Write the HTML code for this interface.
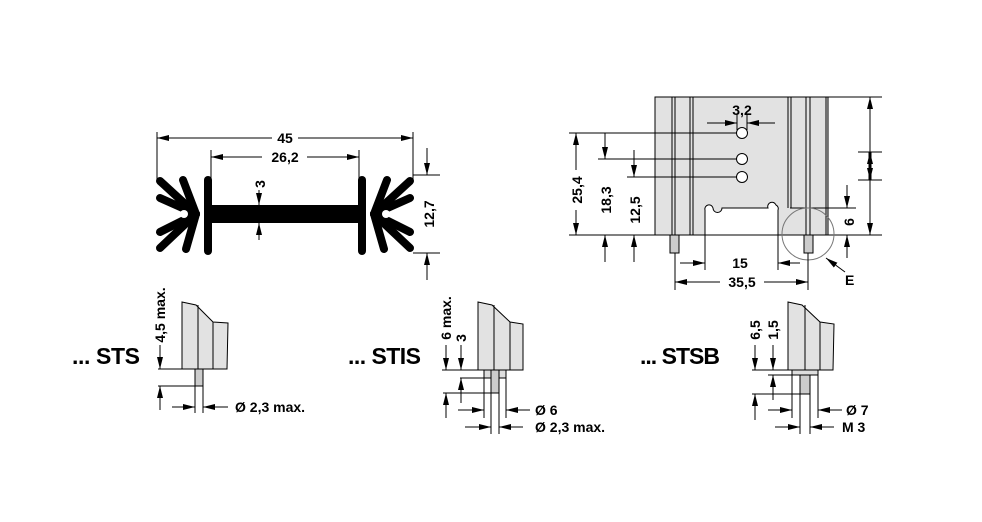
<!DOCTYPE html>
<html><head><meta charset="utf-8"><style>
html,body{margin:0;padding:0;background:#fff}
svg{display:block}
text{font-family:"Liberation Sans",sans-serif;font-weight:bold;fill:#000}
.d{font-size:14px}
.t{font-size:23px}
</style></head><body>
<svg width="982" height="522" viewBox="0 0 982 522" xmlns="http://www.w3.org/2000/svg">
<defs>
<marker id="a" viewBox="0 0 12 6" refX="12" refY="3" markerWidth="12" markerHeight="6" markerUnits="userSpaceOnUse" orient="auto-start-reverse"><path d="M0,0 L12,3 L0,6 z" fill="#000"/></marker>
</defs>
<g stroke="#000" stroke-width="1" fill="none">
<line x1="157" y1="132" x2="157" y2="180"/>
<line x1="413" y1="132" x2="413" y2="180"/>
<line x1="211" y1="150" x2="211" y2="178"/>
<line x1="359" y1="150" x2="359" y2="178"/>
<line x1="157" y1="138" x2="272" y2="138" marker-start="url(#a)"/>
<line x1="298" y1="138" x2="413" y2="138" marker-end="url(#a)"/>
<line x1="211" y1="157" x2="262" y2="157" marker-start="url(#a)"/>
<line x1="307" y1="157" x2="359" y2="157" marker-end="url(#a)"/>
<line x1="413" y1="175" x2="440" y2="175"/>
<line x1="413" y1="253" x2="440" y2="253"/>
<line x1="427" y1="148" x2="427" y2="175" marker-end="url(#a)"/>
<line x1="427" y1="280" x2="427" y2="253" marker-end="url(#a)"/>
<line x1="259" y1="190" x2="259" y2="205" marker-end="url(#a)"/>
<line x1="259" y1="240" x2="259" y2="223" marker-end="url(#a)"/>
</g>
<g stroke="#000" stroke-width="8" stroke-linecap="round">
<line x1="196" y1="214" x2="160" y2="181"/>
<line x1="196" y1="214" x2="160" y2="198"/>
<line x1="196" y1="214" x2="160" y2="232"/>
<line x1="196" y1="214" x2="160" y2="248"/>
<line x1="196" y1="214" x2="183" y2="180"/>
<line x1="196" y1="214" x2="186" y2="249"/>
<line x1="374" y1="214" x2="410" y2="181"/>
<line x1="374" y1="214" x2="410" y2="198"/>
<line x1="374" y1="214" x2="410" y2="232"/>
<line x1="374" y1="214" x2="410" y2="248"/>
<line x1="374" y1="214" x2="387" y2="180"/>
<line x1="374" y1="214" x2="384" y2="249"/>
<line x1="208" y1="180" x2="208" y2="251"/>
<line x1="362" y1="180" x2="362" y2="251"/>
</g>
<rect x="205" y="205" width="160" height="18" fill="#000"/>
<circle cx="184" cy="214" r="4" fill="#fff"/>
<circle cx="386" cy="214" r="4" fill="#fff"/>
<text class="d" x="285" y="143" text-anchor="middle">45</text>
<text class="d" x="285" y="162" text-anchor="middle">26,2</text>
<text class="d" transform="translate(265,184) rotate(-90)" text-anchor="middle">3</text>
<text class="d" transform="translate(434,214) rotate(-90)" text-anchor="middle">12,7</text>

<rect x="655" y="97" width="173" height="138" fill="#e2e2e2" stroke="#000"/>
<path d="M705,235 V210 A4,4 0 0 1 713,208 A4,4 0 0 0 722,208 H768 A4,4 0 0 1 776,205 A4,4 0 0 1 778,210 V235 Z" fill="#fff" stroke="#000"/>
<g stroke="#000" stroke-width="1" fill="none">
<line x1="828" y1="97" x2="882" y2="97"/>
<line x1="672" y1="97" x2="672" y2="235"/><line x1="675" y1="97" x2="675" y2="235"/>
<line x1="690" y1="97" x2="690" y2="235"/><line x1="693" y1="97" x2="693" y2="235"/>
<line x1="788" y1="97" x2="788" y2="208"/><line x1="791" y1="97" x2="791" y2="208"/>
<line x1="806" y1="97" x2="806" y2="235"/><line x1="810" y1="97" x2="810" y2="235"/>
<line x1="826" y1="97" x2="826" y2="235"/>
<line x1="569" y1="133" x2="737" y2="133"/>
<line x1="598" y1="159" x2="737" y2="159"/>
<line x1="627" y1="177" x2="737" y2="177"/>
<line x1="569" y1="235" x2="655" y2="235"/>
<line x1="828" y1="235" x2="882" y2="235"/>
<line x1="576" y1="133" x2="576" y2="170" marker-start="url(#a)"/>
<line x1="576" y1="210" x2="576" y2="235" marker-end="url(#a)"/>
<line x1="605" y1="133" x2="605" y2="159" marker-end="url(#a)"/>
<line x1="605" y1="262" x2="605" y2="235" marker-end="url(#a)"/>
<line x1="634" y1="150" x2="634" y2="177" marker-end="url(#a)"/>
<line x1="634" y1="262" x2="634" y2="235" marker-end="url(#a)"/>
<line x1="707" y1="123" x2="737" y2="123" marker-end="url(#a)"/>
<line x1="775" y1="123" x2="747" y2="123" marker-end="url(#a)"/>
<line x1="737" y1="115" x2="737" y2="130"/><line x1="747" y1="115" x2="747" y2="130"/>
<line x1="870" y1="97" x2="870" y2="152" marker-start="url(#a)"/>
<line x1="870" y1="180" x2="870" y2="235" marker-end="url(#a)"/>
<line x1="858" y1="152" x2="882" y2="152"/><line x1="858" y1="180" x2="882" y2="180"/>
<line x1="870" y1="152" x2="870" y2="180" stroke-width="3" marker-start="url(#a)" marker-end="url(#a)"/>
<line x1="790" y1="208" x2="856" y2="208"/>
<line x1="847" y1="185" x2="847" y2="208" marker-end="url(#a)"/>
<line x1="847" y1="258" x2="847" y2="235" marker-end="url(#a)"/>
<circle cx="808" cy="234" r="26" stroke="#777"/>
<line x1="845" y1="272" x2="826" y2="258" marker-end="url(#a)"/>
<line x1="705" y1="235" x2="705" y2="270"/>
<line x1="778" y1="235" x2="778" y2="270"/>
<line x1="675" y1="253" x2="675" y2="290"/>
<line x1="808" y1="253" x2="808" y2="290"/>
<line x1="680" y1="263" x2="705" y2="263" marker-end="url(#a)"/>
<line x1="800" y1="263" x2="778" y2="263" marker-end="url(#a)"/>
<line x1="675" y1="282" x2="720" y2="282" marker-start="url(#a)"/>
<line x1="764" y1="282" x2="808" y2="282" marker-end="url(#a)"/>
</g>
<circle cx="742" cy="133" r="5.5" fill="#fff" stroke="#000"/>
<circle cx="742" cy="159" r="5.5" fill="#fff" stroke="#000"/>
<circle cx="742" cy="177" r="5.5" fill="#fff" stroke="#000"/>
<rect x="670" y="235" width="9" height="18" fill="#ccc" stroke="#000"/>
<rect x="804" y="235" width="9" height="18" fill="#ccc" stroke="#000"/>
<text class="d" x="742" y="115" text-anchor="middle">3,2</text>
<text class="d" x="740" y="268" text-anchor="middle">15</text>
<text class="d" x="742" y="287" text-anchor="middle">35,5</text>
<text class="d" x="845" y="285">E</text>
<text class="d" transform="translate(582,190) rotate(-90)" text-anchor="middle">25,4</text>
<text class="d" transform="translate(611,200) rotate(-90)" text-anchor="middle">18,3</text>
<text class="d" transform="translate(640,210) rotate(-90)" text-anchor="middle">12,5</text>
<text class="d" transform="translate(854,222) rotate(-90)" text-anchor="middle">6</text>

<text class="t" x="72" y="364" textLength="68">... STS</text>
<path d="M182,302 L196,305 L213,322 L228,323 L227,369 L182,369 Z" fill="#e2e2e2" stroke="#000"/>
<g stroke="#000" fill="none">
<line x1="198" y1="305" x2="198" y2="369"/><line x1="213" y1="322" x2="213" y2="369"/>
<line x1="158" y1="369" x2="182" y2="369"/>
<line x1="158" y1="386" x2="195" y2="386"/>
<line x1="160" y1="345" x2="160" y2="369" marker-end="url(#a)"/>
<line x1="160" y1="410" x2="160" y2="386" marker-end="url(#a)"/>
<line x1="195" y1="386" x2="195" y2="413"/><line x1="203" y1="386" x2="203" y2="413"/>
<line x1="172" y1="407" x2="195" y2="407" marker-end="url(#a)"/>
<line x1="228" y1="407" x2="203" y2="407" marker-end="url(#a)"/>
</g>
<rect x="195" y="369" width="8" height="17" fill="#ccc" stroke="#000"/>
<text class="d" transform="translate(165,315) rotate(-90)" text-anchor="middle">4,5 max.</text>
<text class="d" x="235" y="412">Ø 2,3 max.</text>

<text class="t" x="348" y="364" textLength="73">... STIS</text>
<path d="M478,302 L492,305 L510,322 L523,324 L523,370 L478,370 Z" fill="#e2e2e2" stroke="#000"/>
<g stroke="#000" fill="none">
<line x1="494" y1="305" x2="494" y2="370"/><line x1="510" y1="322" x2="510" y2="370"/>
<line x1="442" y1="370" x2="478" y2="370"/>
<line x1="460" y1="378" x2="484" y2="378"/>
<line x1="443" y1="393" x2="491" y2="393"/>
<line x1="446" y1="345" x2="446" y2="370" marker-end="url(#a)"/>
<line x1="446" y1="418" x2="446" y2="393" marker-end="url(#a)"/>
<line x1="461" y1="345" x2="461" y2="370" marker-end="url(#a)"/>
<line x1="461" y1="403" x2="461" y2="378" marker-end="url(#a)"/>
<line x1="484" y1="378" x2="484" y2="418"/><line x1="506" y1="378" x2="506" y2="418"/>
<line x1="491" y1="393" x2="491" y2="434"/><line x1="499" y1="393" x2="499" y2="434"/>
<line x1="458" y1="410" x2="484" y2="410" marker-end="url(#a)"/>
<line x1="530" y1="410" x2="506" y2="410" marker-end="url(#a)"/>
<line x1="465" y1="427" x2="491" y2="427" marker-end="url(#a)"/>
<line x1="523" y1="427" x2="499" y2="427" marker-end="url(#a)"/>
</g>
<rect x="484" y="370" width="22" height="8" fill="#ddd" stroke="#000"/>
<rect x="491" y="370" width="8" height="23" fill="#ccc" stroke="#000"/>
<text class="d" transform="translate(451,318) rotate(-90)" text-anchor="middle">6 max.</text>
<text class="d" transform="translate(466,338) rotate(-90)" text-anchor="middle">3</text>
<text class="d" x="535" y="415">Ø 6</text>
<text class="d" x="535" y="432">Ø 2,3 max.</text>

<text class="t" x="640" y="364" textLength="80">... STSB</text>
<path d="M788,302 L802,305 L820,322 L834,324 L833,370 L788,370 Z" fill="#e2e2e2" stroke="#000"/>
<g stroke="#000" fill="none">
<line x1="805" y1="305" x2="805" y2="370"/><line x1="820" y1="322" x2="820" y2="370"/>
<line x1="752" y1="370" x2="788" y2="370"/>
<line x1="768" y1="375" x2="792" y2="375"/>
<line x1="752" y1="394" x2="800" y2="394"/>
<line x1="755" y1="345" x2="755" y2="370" marker-end="url(#a)"/>
<line x1="755" y1="420" x2="755" y2="394" marker-end="url(#a)"/>
<line x1="773" y1="345" x2="773" y2="370" marker-end="url(#a)"/>
<line x1="773" y1="400" x2="773" y2="375" marker-end="url(#a)"/>
<line x1="792" y1="375" x2="792" y2="418"/><line x1="818" y1="375" x2="818" y2="418"/>
<line x1="800" y1="394" x2="800" y2="434"/><line x1="810" y1="394" x2="810" y2="434"/>
<line x1="768" y1="410" x2="792" y2="410" marker-end="url(#a)"/>
<line x1="842" y1="410" x2="818" y2="410" marker-end="url(#a)"/>
<line x1="775" y1="427" x2="800" y2="427" marker-end="url(#a)"/>
<line x1="834" y1="427" x2="810" y2="427" marker-end="url(#a)"/>
</g>
<rect x="792" y="370" width="26" height="5" fill="#ddd" stroke="#000"/>
<rect x="800" y="375" width="10" height="19" fill="#ccc" stroke="#000"/>
<text class="d" transform="translate(760,330) rotate(-90)" text-anchor="middle">6,5</text>
<text class="d" transform="translate(778,330) rotate(-90)" text-anchor="middle">1,5</text>
<text class="d" x="846" y="415">Ø 7</text>
<text class="d" x="842" y="432">M 3</text>
</svg>
</body></html>
